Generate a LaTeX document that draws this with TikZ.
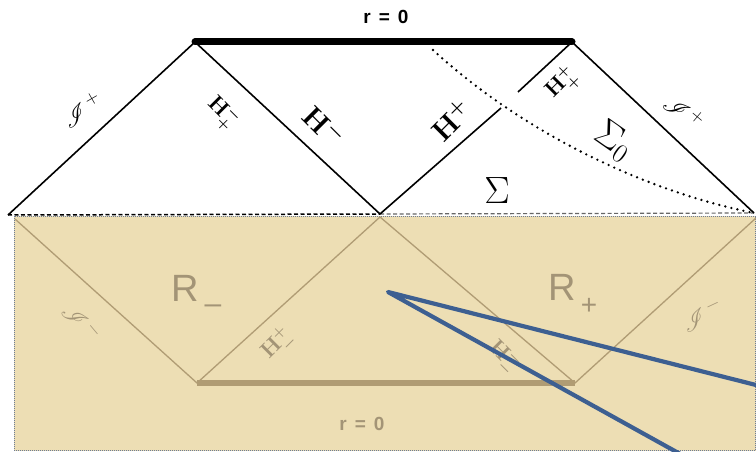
\RequirePackage{fix-cm}
\documentclass[tikz,border=0pt]{standalone}
\usepackage{fontspec}
\usepackage{mathrsfs}
\newfontfamily\lsans{Liberation Sans}
\definecolor{parch}{RGB}{237,222,180}
\definecolor{faded}{RGB}{176,156,116}
\definecolor{fadedtxt}{RGB}{163,148,118}
\definecolor{bluel}{RGB}{61,95,145}
\definecolor{frame}{RGB}{110,125,150}
\begin{document}
\begin{tikzpicture}[x=1pt,y=-1pt,
  edge/.style={line width=1.6pt, black},
  fedge/.style={line width=1.3pt, faded},
  lbl/.style={inner sep=0pt},
  hbig/.style={lbl, font=\fontsize{29}{29}\selectfont\boldmath},
  hsmall/.style={lbl, font=\fontsize{22}{22}\selectfont\boldmath},
  scri/.style={lbl, font=\fontsize{27}{27}\selectfont},
  sig/.style={lbl, font=\fontsize{38}{38}\selectfont},
  rlab/.style={lbl, font=\lsans\fontsize{38}{38}\selectfont, text=fadedtxt},
  rzero/.style={lbl, font=\lsans\bfseries\fontsize{19}{19}\selectfont}]
\useasboundingbox (0,0) rectangle (756,452);
\fill[white] (0,0) rectangle (756,452);

% parchment lower half
\fill[parch] (14,216) rectangle (756,451);
\draw[frame, line width=0.6pt, dash pattern=on 1pt off 1pt] (14,216) rectangle (755.5,450.5);

% coordinates
\coordinate (L) at (8,215);
\coordinate (TL) at (195,42);
\coordinate (TR) at (572,42);
\coordinate (C) at (380,214);
\coordinate (R) at (754,213);
\coordinate (Ha) at (501,108);
\coordinate (Hb) at (518,92);
\coordinate (BL) at (15,219);
\coordinate (BBL) at (197,383);
\coordinate (BC) at (380,217);
\coordinate (BBR) at (575,383);
\coordinate (BR) at (756,218);

% faded lower diagram
\draw[fedge] (BL) -- (BBL) -- (BC) -- (BBR) -- (BR);
\draw[faded, line width=6pt] (BBL) -- (BBR);
\node[rlab] (rm) at (185,288) {R};
\node[lbl, text=fadedtxt, font=\lsans\fontsize{30}{30}\selectfont] (rms) at (213,309) {–};
\node[rlab] (rp) at (562,287) {R};
\node[lbl, text=fadedtxt, font=\lsans\fontsize{28}{28}\selectfont] (rps) at (589,306) {+};
\node[rzero, text=fadedtxt] (rz2) at (362,424) {r\hspace{8pt}=\hspace{8pt}0};
\node[scri, text=fadedtxt, rotate=-50] (sm1) at (82,322) {$\mathscr{I}^{\,-}$};
\node[scri, text=fadedtxt, rotate=25] (sm2) at (702,315) {$\mathscr{I}^{\,-}$};
\node[hsmall, text=fadedtxt, rotate=45] (hpm) at (278,345) {$\mathbf{H}^{+}_{-}$};
\node[hsmall, text=fadedtxt, rotate=-45] (hmm) at (503,357) {$\mathbf{H}^{-}_{-}$};

% upper diagram
\draw[black, dash pattern=on 4pt off 2.5pt, line width=1.5pt] (L) -- (C);
\draw[black!60, dash pattern=on 4pt off 2.5pt, line width=1.2pt] (C) -- (R);
\draw[edge, line join=miter] (C) -- (TL) -- (L);
\draw[edge] (TR) -- (R);
\draw[edge] (C) -- (Ha);
\draw[edge] (Hb) -- (TR);
\draw[black, line width=7pt, line cap=round] (TL) -- (TR);
\draw[black, line width=2.6pt, line cap=round, dash pattern=on 0pt off 6.2pt]
  (433,50) .. controls (520,130) and (640,190) .. (R);

\node[rzero] (rz) at (386,17) {r\hspace{8pt}=\hspace{8pt}0};
\node[scri, rotate=30] (sp1) at (82,110) {$\mathscr{I}^{\,+}$};
\node[scri, rotate=-40] (sp2) at (684,112) {$\mathscr{I}^{\,+}$};
\node[hsmall, rotate=-45] (hmp) at (222,113) {$\mathbf{H}^{-}_{+}$};
\node[hbig, rotate=-45] (hm) at (324,126) {$\mathbf{H}^{-}$};
\node[hbig, rotate=45] (hp) at (451,120) {$\mathbf{H}^{+}$};
\node[hsmall, rotate=45] (hpp) at (562,84) {$\mathbf{H}^{+}_{+}$};
\node[sig, rotate=-35] (s0) at (614,141) {$\Sigma_0$};
\node[sig] (s) at (497,191) {$\Sigma$};

% blue lines
\coordinate (P) at (388,292);
\coordinate (E1) at (756,385);
\coordinate (E2) at (682,455);
\draw[bluel, line width=4.2pt, line join=round, line cap=round] (E1) -- (P) -- (E2);
\end{tikzpicture}
\end{document}
